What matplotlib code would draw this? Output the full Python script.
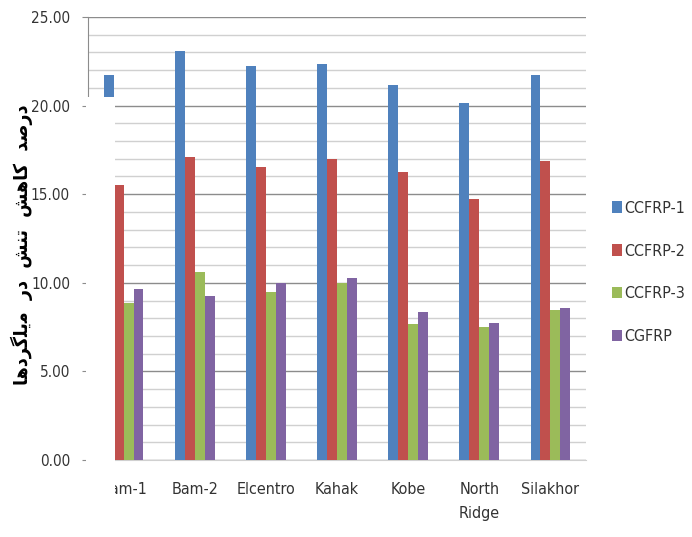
import matplotlib.pyplot as plt
import matplotlib.patches as mpatches
import numpy as np

# Datos
categories = ["Bam-1", "Bam-2", "Elcentro", "Kahak", "Kobe", "North\nRidge", "Silakhor"]
ccfrp_1 = [21.73, 23.10, 22.23, 22.33, 21.16, 20.13, 21.73]
ccfrp_2 = [15.52, 17.12, 16.55, 16.97, 16.23, 14.73, 16.89]
ccfrp_3 = [8.84, 10.63, 9.46, 9.97, 7.66, 7.52, 8.46]
cgfrp = [9.63, 9.25, 9.97, 10.25, 8.37, 7.75, 8.59]
series_names = ["CCFRP-1", "CCFRP-2", "CCFRP-3", "CGFRP"]
colors = ["#4F81BD", "#C0504D", "#9BBB59", "#8064A2"]

# Etiqueta del eje Y en persa, con formas de presentación (matplotlib no hace shaping)
# "درصد کاهش تنش در میلگردها"
ylabel_shaped = (
    "\uFEA9\uFEAD\uFEBB\uFEAA" + "  "
    + "\uFB90\uFE8E\uFEEB\uFEB6" + "  "
    + "\uFE97\uFEE8\uFEB6" + "  "
    + "\uFEA9\uFEAD" + "  "
    + "\uFEE3\uFBFE\uFEE0\uFB94\uFEAE\uFEA9\uFEEB\uFE8E"
)
ylabel_visual = ylabel_shaped[::-1]

plt.rcParams["font.family"] = ["DejaVu Sans"]
plt.rcParams["font.stretch"] = "condensed"

fig = plt.figure(figsize=(6.92, 5.37), dpi=100)
ax = fig.add_axes([88 / 692, 1 - 460 / 537, 498 / 692, 443 / 537])

x = np.arange(len(categories))
width = 0.14
all_series = [ccfrp_1, ccfrp_2, ccfrp_3, cgfrp]
for i, (vals, name, col) in enumerate(zip(all_series, series_names, colors)):
    ax.bar(x + (i - 1.5) * width, vals, width, color=col, label=name, zorder=3)

ax.set_xlim(-0.5, len(categories) - 0.5)
ax.set_ylim(0, 25)
ax.set_yticks(np.arange(0, 25.1, 5))
ax.set_yticks(np.arange(0, 25.1, 1), minor=True)
ax.set_yticklabels([f"{v:.2f}" for v in np.arange(0, 25.1, 5)])
ax.set_xticks(x)
ax.set_xticklabels(categories, linespacing=1.7)

ax.grid(True, which="major", axis="y", color="#8C8C8C", linewidth=1.0, zorder=0)
ax.grid(True, which="minor", axis="y", color="#D0D0D0", linewidth=1.0, zorder=0)

ax.tick_params(axis="y", which="major", length=4, color="#8C8C8C", pad=9,
               labelsize=11, labelcolor="#333333")
ax.tick_params(axis="y", which="minor", length=0)
ax.tick_params(axis="x", length=0, pad=16, labelsize=11.5, labelcolor="#333333")

for s in ["top", "right"]:
    ax.spines[s].set_visible(False)
ax.spines["left"].set_color("#8C8C8C")
ax.spines["bottom"].set_color("#D0D0D0")

fig.text(22 / 692, 1 - 245 / 537, ylabel_visual, rotation=90, ha="center",
         va="center", family="DejaVu Sans", fontweight="bold", fontsize=14)

leg = ax.legend(loc="upper left", bbox_to_anchor=(1.04, 0.60), frameon=False,
                fontsize=11.5, handlelength=0.6, handleheight=0.7,
                handletextpad=0.15, labelspacing=1.75, borderaxespad=0)
for t in leg.get_texts():
    t.set_color("#333333")

# Recuadro blanco que tapa parte del gráfico original
fig.add_artist(mpatches.Rectangle((86 / 692, 1 - 508 / 537), 29 / 692, 411 / 537,
                                  transform=fig.transFigure, facecolor="white",
                                  edgecolor="none", zorder=5))

fig.savefig("out.png", dpi=100)
